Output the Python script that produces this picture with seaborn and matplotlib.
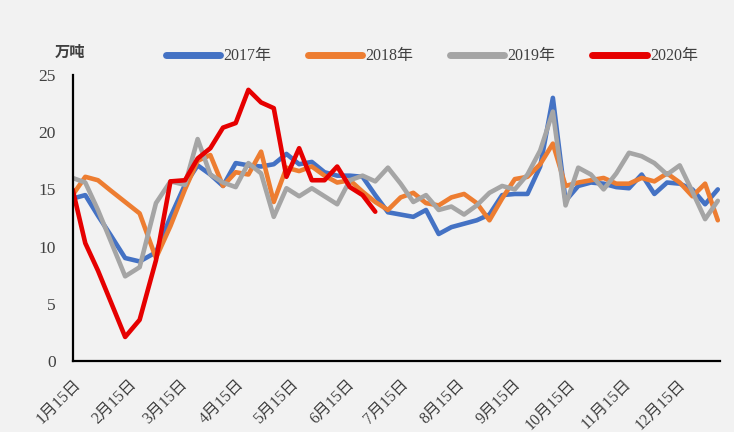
import matplotlib
matplotlib.use("Agg")
import matplotlib.pyplot as plt
import numpy as np
import pandas as pd
import seaborn as sns

# ---- data -------------------------------------------------------------
# day offset of each weekly observation counted from 15 January
obs_day = [0, 7, 14, 21, 29, 37, 46, 54] + list(range(62, 357, 7))

y2017 = [14.2, 14.5, 12.7, 11.0, 9.0, 8.7, 9.5, 12.6, 15.4, 17.1,
         16.3, 15.3, 17.3, 17.1, 17.0, 17.2, 18.1, 17.2, 17.4, 16.5,
         16.2, 16.2, 16.1, 14.5, 13.0, 12.8, 12.6, 13.2, 11.1, 11.7,
         12.0, 12.3, 12.8, 14.5, 14.6, 14.6, 17.0, 23.0, 14.0, 15.3,
         15.6, 15.5, 15.2, 15.1, 16.3, 14.6, 15.6, 15.5, 15.0, 13.7,
         15.0]
y2018 = [14.5, 16.1, 15.8, 14.9, 13.9, 12.9, 9.0, 11.8, 15.0, 17.5,
         18.0, 15.3, 16.5, 16.3, 18.3, 13.9, 16.9, 16.6, 17.0, 16.2,
         15.6, 15.8, 14.8, 13.9, 13.2, 14.3, 14.7, 13.8, 13.6, 14.3,
         14.6, 13.8, 12.3, 14.2, 15.9, 16.1, 17.2, 19.0, 15.3, 15.6,
         15.8, 16.0, 15.5, 15.5, 16.0, 15.7, 16.4, 15.6, 14.4, 15.5,
         12.3]
y2019 = [16.0, 15.6, 13.2, 10.5, 7.4, 8.2, 13.8, 15.7, 15.4, 19.4,
         16.3, 15.6, 15.2, 17.3, 16.4, 12.6, 15.1, 14.4, 15.1, 14.4,
         13.7, 15.8, 16.2, 15.7, 16.9, 15.5, 13.9, 14.5, 13.2, 13.5,
         12.8, 13.6, 14.7, 15.3, 15.0, 16.3, 18.4, 21.8, 13.6, 16.9,
         16.3, 15.0, 16.4, 18.2, 17.9, 17.3, 16.3, 17.1, 14.8, 12.4,
         14.0]
y2020 = [15.0, 10.3, 7.9, 5.2, 2.1, 3.6, 8.8, 15.7, 15.8, 17.7,
         18.6, 20.4, 20.8, 23.7, 22.6, 22.1, 16.1, 18.6, 15.8, 15.8,
         17.0, 15.2, 14.5, 13.05]

series_names = ["2017年", "2018年", "2019年", "2020年"]
series_values = [y2017, y2018, y2019, y2020]
series_colors = ["#4472C4", "#ED7D31", "#A5A5A5", "#E60000"]

tick_labels = [f"{m}月15日" for m in range(1, 13)]
tick_days = [(pd.Timestamp(2019, m, 15) - pd.Timestamp(2019, 1, 15)).days
             for m in range(1, 13)]

rows = []
for name, vals in zip(series_names, series_values):
    for d, v in zip(obs_day, vals):
        rows.append({"day": d, "value": v, "year": name})
df = pd.DataFrame(rows)

# ---- style ------------------------------------------------------------
BG = "#F2F2F2"
sns.set_theme(style="white", rc={"figure.facecolor": BG, "axes.facecolor": BG})
plt.rcParams["font.family"] = ["Liberation Serif", "Noto Sans CJK SC"]
TXT = "#404040"

fig = plt.figure(figsize=(7.34, 4.32), dpi=100)
ax = fig.add_axes([0.0989, 0.1644, 0.8815, 0.662])

sns.lineplot(data=df, x="day", y="value", hue="year",
             hue_order=series_names, palette=series_colors,
             linewidth=3.3, ax=ax, legend=True, sort=False)
for ln in ax.get_lines():
    ln.set_solid_joinstyle("round")
    ln.set_solid_capstyle("round")

ax.set_xlim(0, 357)
ax.set_ylim(0, 25)
ax.set_yticks(np.arange(0, 26, 5))
ax.set_xticks(tick_days)
ax.set_xticklabels(tick_labels)
ax.set_xlabel("")
ax.set_ylabel("")

for s in ["top", "right"]:
    ax.spines[s].set_visible(False)
for s in ["left", "bottom"]:
    ax.spines[s].set_color("black")
    ax.spines[s].set_linewidth(1.6)

ax.tick_params(axis="both", direction="in", length=5, width=1.4,
               color="black", labelcolor=TXT)
ax.tick_params(axis="y", labelsize=12.5, pad=12)
ax.tick_params(axis="x", labelsize=11.5, pad=11)
for lab in ax.get_xticklabels():
    lab.set_rotation(45)
    lab.set_ha("right")
    lab.set_va("top")
    lab.set_rotation_mode("anchor")

sns.move_legend(ax, "center", bbox_to_anchor=(0.555, 1.065), ncol=4,
                frameon=False, title=None, fontsize=11.5,
                handlelength=3.4, handletextpad=0.2, columnspacing=2.3)
leg = ax.get_legend()
for h in leg.get_lines():
    h.set_linewidth(5)
    h.set_solid_capstyle("round")
for t in leg.get_texts():
    t.set_color(TXT)

fig.text(0.095, 0.881, "万吨", ha="center", va="center", fontsize=11,
         color=TXT, family=["Noto Sans CJK SC"], fontweight="bold")

fig.savefig("out.png", dpi=100, facecolor=BG)
